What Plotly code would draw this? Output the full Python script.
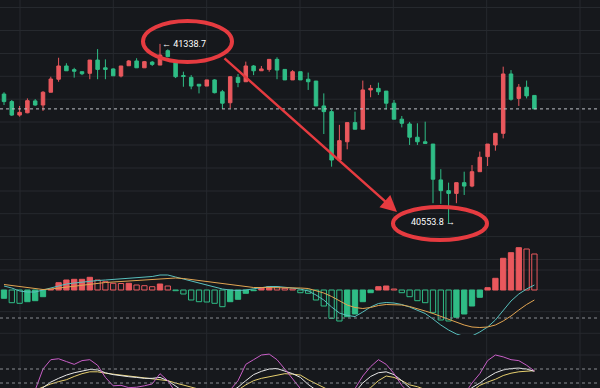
import plotly.graph_objects as go

W, H = 600, 388

# ---------------- data ----------------
opens = [41119, 41086, 41027, 41037, 41089, 41071, 41127, 41184, 41242, 41226,
         41217, 41210, 41268, 41234, 41229, 41198, 41243, 41264, 41234, 41259,
         41246, 41309, 41261, 41200, 41192, 41162, 41154, 41181, 41129, 41081,
         41192, 41173, 41242, 41221, 41227, 41271, 41227, 41181, 41217, 41184,
         41176, 41067, 41042, 40830, 40910, 40994, 40965, 41137, 41144, 41132,
         41079, 41009, 40988, 40930, 40910, 40900, 40743, 40696, 40684, 40731,
         40716, 40779, 40845, 40896, 40947, 41207, 41100, 41149, 41113]
highs = [41127, 41093, 41067, 41100, 41097, 41132, 41195, 41278, 41254, 41234,
         41217, 41268, 41316, 41271, 41232, 41242, 41268, 41276, 41264, 41264,
         41338.7, 41315, 41261, 41217, 41202, 41162, 41181, 41184, 41137, 41198,
         41207, 41261, 41246, 41242, 41271, 41280, 41227, 41224, 41217, 41213,
         41176, 41122, 41052, 40984, 40994, 41042, 41178, 41159, 41169, 41132,
         41093, 41023, 40997, 40991, 40998, 40900, 40790, 40731, 40731, 40779,
         40808, 40867, 40900, 40947, 41239, 41224, 41163, 41178, 41113]
lows = [41071, 41023, 41020, 41035, 41068, 41045, 41127, 41173, 41221, 41191,
        41202, 41184, 41184, 41184, 41198, 41192, 41242, 41234, 41234, 41242,
        41246, 41280, 41189, 41151, 41140, 41122, 41154, 41122, 41054, 41057,
        41149, 41173, 41202, 41221, 41217, 41184, 41181, 41181, 41181, 41137,
        41067, 40944, 40801, 40830, 40877, 40965, 40965, 41105, 41115, 41052,
        41009, 40973, 40896, 40896, 40903, 40641, 40638, 40553.8, 40641, 40677,
        40711, 40779, 40804, 40871, 40925, 41090, 41067, 41100, 41054]
closes = [41086, 41027, 41039, 41090, 41071, 41127, 41185, 41242, 41221, 41219,
          41208, 41268, 41227, 41227, 41199, 41242, 41264, 41234, 41261, 41249,
          41290, 41283, 41195, 41196, 41154, 41154, 41181, 41125, 41079, 41195,
          41170, 41242, 41221, 41229, 41271, 41224, 41181, 41217, 41181, 41173,
          41067, 41042, 40830, 40915, 40994, 40965, 41137, 41144, 41129, 41079,
          41009, 40991, 40930, 40910, 40903, 40746, 40696, 40684, 40731, 40716,
          40779, 40842, 40900, 40947, 41207, 41096, 41149, 41111, 41054]

macd_hist = [-8.3, -12.7, -13.3, -11.7, -10.7, -6.7, 0.7, 7.3, 10, 10.7,
             10.7, 12.7, 10, 8.3, 6.7, 6.5, 6.7, 5, 4.3, 3.3,
             6, 4, -0.7, -4, -10, -11.7, -12, -13.3, -16.7, -11.7,
             -9.3, -3.3, -0.7, 2.3, 3.3, 3, 1.7, 1, -2.7, -3.3,
             -10, -16, -28.3, -31, -26.7, -24, -11.7, -2.7, 3.3, 4,
             1, -2.7, -6.7, -10.7, -12.7, -22.7, -30, -31, -27.3, -24,
             -16, -7.3, 2.3, 11.7, 31.7, 37.3, 42.3, 41, 36]
dif = [4, 2, -1, -2, -2, 0, 2, 4, 6, 7,
       8, 9, 9.5, 10, 10.5, 11, 11.5, 12, 12.5, 13.5,
       15, 15, 13, 11, 9, 7, 5, 3, 1, 0,
       -0.5, 0, 1, 2.5, 3.5, 3.5, 3, 2, 1, -1,
       -5, -10, -17, -23, -25.5, -26.5, -22, -17, -13.5, -12.5,
       -13, -14.5, -17, -20, -23.5, -29, -35, -40, -44, -46.5,
       -46, -42, -37, -30, -20, -11, -4, 1, 5]
dea = [5.5, 4.5, 3, 2, 1, 0.5, 1, 2, 3, 4,
       5, 6, 7, 7.5, 8, 8.5, 9, 9.5, 10, 10.5,
       11.5, 12, 12, 11.5, 10.5, 9.5, 8.5, 7, 6, 5,
       4, 3, 2.5, 2.5, 2.5, 2.5, 2.5, 2.5, 2, 1.5,
       -0.5, -3, -6.5, -11, -15, -17.5, -18.5, -17.5, -15.5, -14.5,
       -14.5, -15, -16.5, -18.5, -21, -23.5, -26.5, -29.5, -32.5, -35,
       -37, -37.5, -37, -35, -31, -26, -20, -14.5, -10]

kdj_k = [25, 20, 20, 25, 32, 40, 52, 60, 67, 72,
         76, 79, 78, 72, 68, 65, 63.5, 62, 60, 60,
         62, 55, 42, 32, 25, 20, 15, 15, 20, 30,
         41, 55, 68, 75, 80, 81, 76, 70, 62, 47,
         35, 22, 15, 12, 18, 30, 50, 64, 72, 74,
         68, 55, 40, 30, 20, 12, 8, 8, 12, 25,
         40, 50, 62, 72, 78, 81, 82, 80, 75]
kdj_d = [30, 28, 26, 28, 35, 42, 48, 53, 57, 64,
         70, 74, 74, 71, 69, 67, 65, 63, 61, 59,
         58, 55, 50, 45, 40, 36, 32, 28, 26, 30,
         35, 46, 55, 60, 63, 66, 70, 69, 67, 57,
         48, 40, 32, 26, 24, 26, 32, 40, 55, 65,
         62, 55, 46, 42, 35, 28, 22, 18, 16, 20,
         32, 45, 52, 58, 66, 71, 74, 76, 76.5]
kdj_j = [15, 10, 12, 25, 35, 80, 100, 102, 96, 90,
         98, 100, 88, 62, 44, 45, 40, 41, 44, 48,
         70, 55, 30, 15, 5, 0, -5, 5, 20, 35,
         55, 90, 100, 110, 112, 100, 80, 60, 38, 25,
         10, -5, -15, -10, 10, 38, 65, 85, 100, 90,
         70, 45, 25, 10, 0, -10, -15, -10, 0, 25,
         50, 70, 98, 110, 106, 100, 98, 88, 76]

high_label = "← 41338.7"
low_label = "40553.8 →"

idx = list(range(len(opens)))

# ---------------- styling ----------------
BG = "#16181c"
GRID = "#26292e"
RED = "#e9585d"
GREEN = "#2fbd86"
ANN = "#e63b40"

def py(p):  # pixel y -> paper y
    return 1 - p / H

fig = go.Figure()

fig.add_trace(go.Candlestick(
    x=idx, open=opens, high=highs, low=lows, close=closes,
    increasing=dict(line=dict(color=RED, width=1), fillcolor=RED),
    decreasing=dict(line=dict(color=GREEN, width=1), fillcolor=GREEN),
    whiskerwidth=0, xaxis="x", yaxis="y", hoverinfo="skip", showlegend=False))

# MACD histogram: filled when rising, hollow when falling
fill_cols, line_cols = [], []
for i, v in enumerate(macd_hist):
    base = RED if v >= 0 else GREEN
    rising = i == 0 or v >= macd_hist[i - 1]
    fill_cols.append(base if rising else "rgba(0,0,0,0)")
    line_cols.append(base)
fig.add_trace(go.Bar(x=idx, y=macd_hist, width=0.68, xaxis="x", yaxis="y2",
                     marker=dict(color=fill_cols, line=dict(color=line_cols, width=1)),
                     hoverinfo="skip", showlegend=False))
fig.add_trace(go.Scatter(x=idx, y=dif, mode="lines", line=dict(color="#58c0bd", width=1),
                         xaxis="x", yaxis="y2", hoverinfo="skip", showlegend=False))
fig.add_trace(go.Scatter(x=idx, y=dea, mode="lines", line=dict(color="#e2a552", width=1),
                         xaxis="x", yaxis="y2", hoverinfo="skip", showlegend=False))

for vals, col in ((kdj_d, "#e6cf6e"), (kdj_k, "#e8e8e8"), (kdj_j, "#c85ec6")):
    fig.add_trace(go.Scatter(x=idx, y=vals, mode="lines", line=dict(color=col, width=1),
                             xaxis="x", yaxis="y3", hoverinfo="skip", showlegend=False))

shapes = []
# vertical grid
for gx in (20, 113.3, 206.7, 300, 393.3, 486.7, 580):
    shapes.append(dict(type="line", xref="paper", yref="paper", x0=gx / W, x1=gx / W,
                       y0=0, y1=1, line=dict(color=GRID, width=1), layer="below"))
# horizontal grid
for gy in (7.5, 30.5, 53.5, 76.3, 99.2, 122, 145, 168, 191, 213.7, 236.6,
           259.5, 270, 290, 311.7, 333.3, 355):
    shapes.append(dict(type="line", xref="paper", yref="paper", x0=0, x1=1,
                       y0=py(gy), y1=py(gy), line=dict(color=GRID, width=1), layer="below"))
# last price dashed line
shapes.append(dict(type="line", xref="paper", yref="y", x0=0, x1=1,
                   y0=closes[-1], y1=closes[-1],
                   line=dict(color="#bfc3c8", width=1, dash="3px,3px")))
# MACD reference dashed line
shapes.append(dict(type="line", xref="paper", yref="y2", x0=0, x1=1, y0=-28, y1=-28,
                   line=dict(color="#8a8d92", width=1, dash="3px,3px")))
# KDJ reference dashed lines
for lvl in (80, 50):
    shapes.append(dict(type="line", xref="paper", yref="y3", x0=0, x1=1, y0=lvl, y1=lvl,
                       line=dict(color="#8a8d92", width=1, dash="3px,3px")))
# red ellipses
shapes.append(dict(type="circle", xref="paper", yref="paper",
                   x0=143 / W, x1=232 / W, y0=py(62), y1=py(21),
                   line=dict(color=ANN, width=4)))
shapes.append(dict(type="circle", xref="paper", yref="paper",
                   x0=393 / W, x1=487 / W, y0=py(240), y1=py(207),
                   line=dict(color=ANN, width=4)))

annotations = [
    dict(xref="paper", yref="paper", x=397 / W, y=py(212), ax=-174, ay=-155,
         text="", showarrow=True, arrowhead=2, arrowsize=1.3, arrowwidth=2.5,
         arrowcolor=ANN, standoff=0),
    dict(xref="paper", yref="paper", x=160 / W, y=py(44), text=high_label,
         showarrow=False, xanchor="left", yanchor="middle",
         font=dict(color="#ffffff", size=9, family="Roboto")),
    dict(xref="paper", yref="paper", x=409 / W, y=py(222), text=low_label,
         showarrow=False, xanchor="left", yanchor="middle",
         font=dict(color="#ffffff", size=9, family="Roboto")),
]

x_range = [-0.513, 76.41]
fig.update_layout(
    width=W, height=H, margin=dict(l=0, r=0, t=0, b=0),
    paper_bgcolor=BG, plot_bgcolor=BG, boxgap=0.36, bargap=0.3,
    xaxis=dict(range=x_range, visible=False, rangeslider=dict(visible=False), fixedrange=True),
    yaxis=dict(domain=[py(245), 1], range=[41531 - 4.38 * 245, 41531],
               visible=False, fixedrange=True),
    yaxis2=dict(domain=[py(335), py(245)], range=[-45, 45], visible=False, fixedrange=True),
    yaxis3=dict(domain=[0, py(335)], range=[39.3, 152.9], visible=False, fixedrange=True),
    shapes=shapes, annotations=annotations, showlegend=False,
)

fig.write_html("out.html", config={"displayModeBar": False},
               post_script="document.body.style.margin='0';document.body.style.background='" + BG + "';")
